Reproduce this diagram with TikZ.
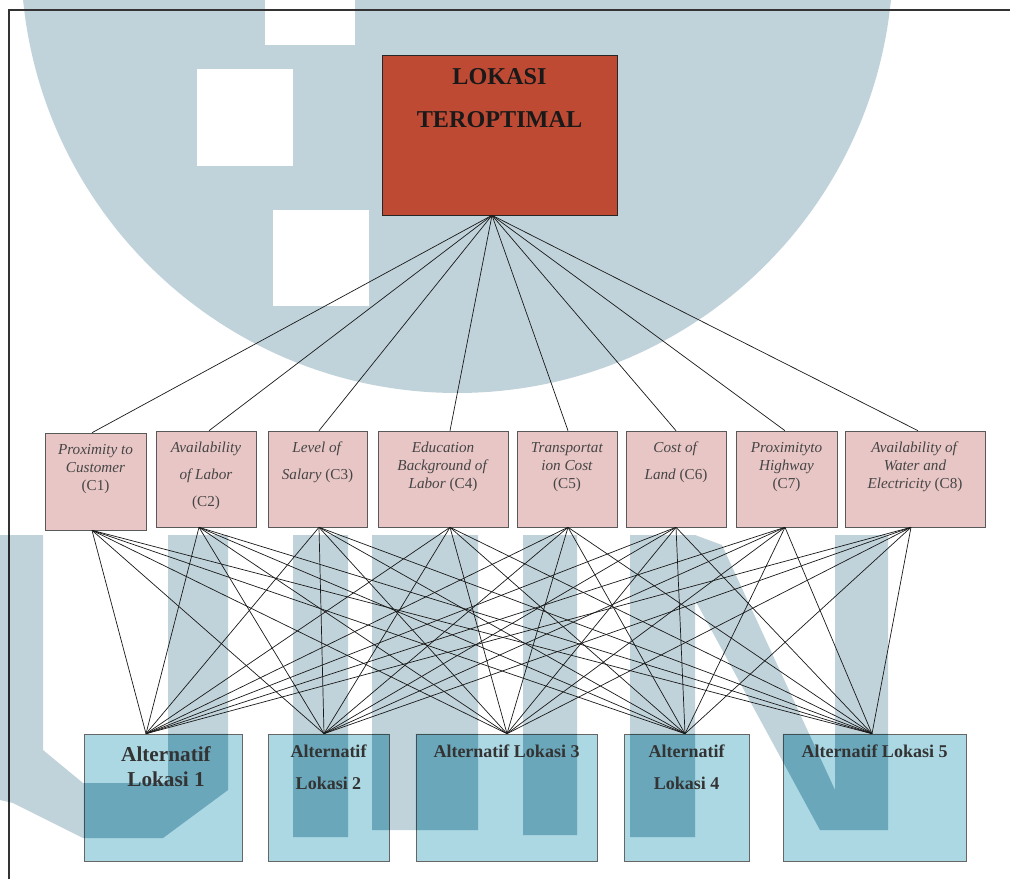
\documentclass[tikz,border=0pt]{standalone}
\usepackage{fontspec}
\setmainfont{Liberation Serif}
\usetikzlibrary{calc}
\definecolor{wmark}{HTML}{C1D3DA}
\definecolor{wmdeep}{HTML}{D1F0F5}
\definecolor{goalred}{HTML}{BE4A34}
\definecolor{critpink}{HTML}{E9C6C6}
\definecolor{altblue}{HTML}{ACD8E4}
\definecolor{textgray}{HTML}{454545}
\tikzset{
  goalbox/.style={draw=black!85, fill=goalred, inner sep=0pt, minimum width=5.875cm, minimum height=4cm},
  critbox/.style={draw=black!65, fill=critpink, inner sep=0pt, minimum height=2.4cm},
  altbox/.style={draw=black!60, fill=altblue, inner sep=0pt, minimum height=3.175cm},
  critlabel/.style={anchor=north, inner sep=0pt, align=center, text=textgray, font=\fontsize{10.8}{12.8}\selectfont},
  critlabel loose/.style={critlabel, font=\fontsize{10.8}{19.1}\selectfont},
  altlabel/.style={anchor=north, inner sep=0pt, align=center, text=black!80, font=\bfseries\fontsize{12.8}{22.7}\selectfont},
  link/.style={draw=black!90, line width=0.5pt},
}
\begin{document}
\begin{tikzpicture}[x=0.025cm, y=-0.025cm]
\useasboundingbox (0,0) rectangle (1010,879);

% Watermark behind the diagram (dome with squares)
\begin{scope}
\clip (0,0) rectangle (1010,879);
\fill[wmark] (457,-43) circle [radius=436];
\end{scope}
\fill[white] (265,0) rectangle (355,45);
\fill[white] (197,69) rectangle (293,166);
\fill[white] (273,210) rectangle (369,306);

% Page frame
\draw[line width=0.9pt, black!80] (9,879) -- (9,10) -- (1010,10);

% Goal
\node[goalbox] (goal) at (499.5,135) {};

% Criteria
\node[critbox, minimum width=2.525cm, minimum height=2.425cm] (C1) at (95.5,481.5) {};
\node[critbox, minimum width=2.5cm] (C2) at (206,479) {};
\node[critbox, minimum width=2.475cm] (C3) at (317.5,479) {};
\node[critbox, minimum width=3.25cm] (C4) at (443,479) {};
\node[critbox, minimum width=2.5cm] (C5) at (567,479) {};
\node[critbox, minimum width=2.5cm] (C6) at (676,479) {};
\node[critbox, minimum width=2.525cm] (C7) at (786.5,479) {};
\node[critbox, minimum width=3.5cm] (C8) at (915,479) {};

% Alternatives
\node[altbox, minimum width=3.95cm] (A1) at (163,797.5) {};
\node[altbox, minimum width=3.025cm] (A2) at (328.5,797.5) {};
\node[altbox, minimum width=4.525cm] (A3) at (506.5,797.5) {};
\node[altbox, minimum width=3.125cm] (A4) at (686.5,797.5) {};
\node[altbox, minimum width=4.575cm] (A5) at (874.5,797.5) {};

% Watermark letters, seen through the alternatives
\def\wmletters{
  (0,535) -- (43,535) -- (43,750) -- (83,783) -- (168,783) -- (168,535)
  -- (228,535) -- (228,790) -- (163,838) -- (83,838) -- (13,803) -- (0,800) -- cycle
  (293,535) rectangle (348,837)
  (372,535) rectangle (478,830)
  (523,535) rectangle (577,835)
  (630,535) rectangle (695,837)
  (695,535) -- (722,545) -- (835,790) -- (835,830) -- (820,830) -- (695,600) -- cycle
  (835,535) rectangle (888,830)}
\begin{scope}[blend mode=multiply]
\fill[wmark] \wmletters;
\end{scope}
\begin{scope}[blend mode=multiply]
\clip (A1.south west) rectangle (A1.north east) (A2.south west) rectangle (A2.north east)
  (A3.south west) rectangle (A3.north east) (A4.south west) rectangle (A4.north east)
  (A5.south west) rectangle (A5.north east);
\fill[wmdeep] \wmletters;
\end{scope}

% Goal to criteria
\foreach \i/\dx in {1/-3.5,2/3,3/1.5,4/7,5/1,6/0,7/-1.5,8/3}
  \draw[link] ($(goal.south)+(-7.5,0)$) -- ($(C\i.north)+(\dx,0)$);

% Every criterion to every alternative
\foreach \i/\dx in {1/-3.5,2/-7,3/1.5,4/7,5/1,6/0,7/-1.5,8/-4}
  \foreach \j/\ex in {1/-17,2/-4.5,3/0.5,4/-1.5,5/-2.5}
    \draw[link] ($(C\i.south)+(\dx,0)$) -- ($(A\j.north)+(\ex,0)$);

% Labels
\node[anchor=north, inner sep=0pt, align=center, text=black!90,
  font=\bfseries\fontsize{17.2}{30.5}\selectfont] (goallbl) at (499.5,68) {LOKASI\\TEROPTIMAL};

\node[critlabel] (C1lbl) at (95.5,444) {\textit{Proximity to}\\\textit{Customer}\\(C1)};
\node[critlabel loose] (C2lbl) at (206,442) {\textit{Availability}\\\textit{of Labor}\\(C2)};
\node[critlabel loose] (C3lbl) at (317.5,442) {\textit{Level of}\\\textit{Salary} (C3)};
\node[critlabel] (C4lbl) at (443,442) {\textit{Education}\\\textit{Background of}\\\textit{Labor} (C4)};
\node[critlabel] (C5lbl) at (567,442) {\textit{Transportat}\\\textit{ion Cost}\\(C5)};
\node[critlabel loose] (C6lbl) at (676,442) {\textit{Cost of}\\\textit{Land} (C6)};
\node[critlabel] (C7lbl) at (786.5,442) {\textit{Proximityto}\\\textit{Highway}\\(C7)};
\node[critlabel] (C8lbl) at (915,442) {\textit{Availability of}\\\textit{Water and}\\\textit{Electricity} (C8)};

\node[altlabel, font=\bfseries\fontsize{15.1}{17.7}\selectfont] (A1lbl) at (166,746) {Alternatif\\Lokasi 1};
\node[altlabel] (A2lbl) at (328.5,745) {Alternatif\\Lokasi 2};
\node[altlabel] (A3lbl) at (506.5,745) {Alternatif Lokasi 3};
\node[altlabel] (A4lbl) at (686.5,745) {Alternatif\\Lokasi 4};
\node[altlabel] (A5lbl) at (874.5,745) {Alternatif Lokasi 5};
\end{tikzpicture}
\end{document}
